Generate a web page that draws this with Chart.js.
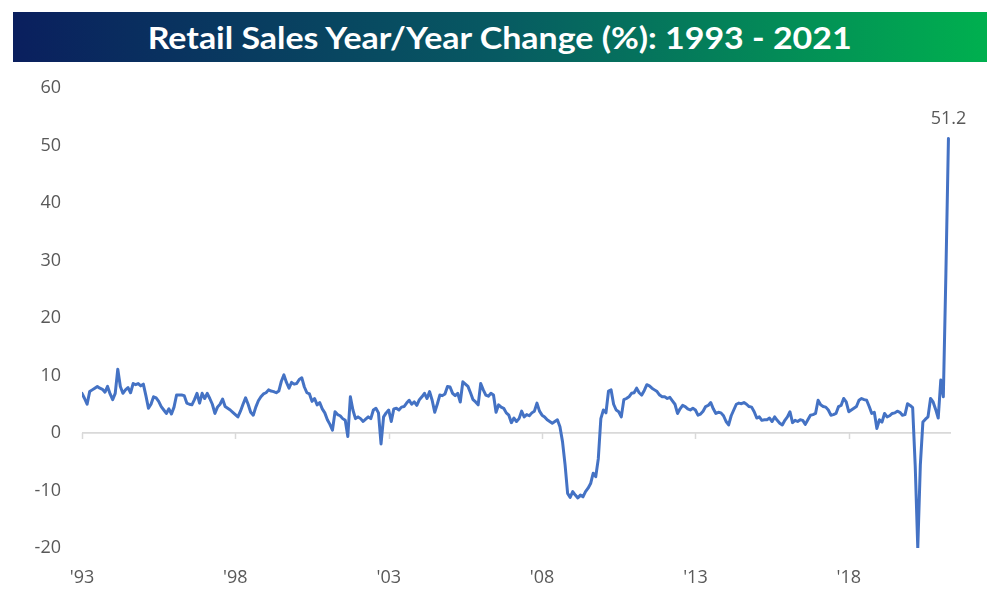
<!DOCTYPE html>
<html>
<head>
<meta charset="utf-8">
<script src="https://cdn.jsdelivr.net/npm/chart.js@4.4.1/dist/chart.umd.min.js"></script>
<style>
  html, body { margin: 0; padding: 0; background: #ffffff; }
  #wrap { position: relative; width: 1000px; height: 606px; overflow: hidden; }
  #banner {
    position: absolute; left: 13px; top: 12px; width: 974px; height: 50px;
    background: linear-gradient(90deg, #0a1f5e 0%, #075a62 50%, #00b04f 100%);
    display: flex; align-items: center; justify-content: center;
  }
  #title {
    color: #ffffff; font-family: Lato, "Open Sans", sans-serif; font-weight: 700;
    font-size: 31px; white-space: nowrap; display: inline-block; transform-origin: center center;
  }
  canvas { position: absolute; left: 0; top: 0; }
</style>
</head>
<body>
<div id="wrap">
  <canvas id="c" width="1000" height="606"></canvas>
  <div id="banner"><span id="title">Retail Sales Year/Year Change (%): 1993 - 2021</span></div>
</div>
<script>
// ---- data (monthly, Jan 1993 .. Apr 2021) ----
const startYear = 1993;
const yoy = [
  /*1993*/ 6.9, 6.0, 5.0, 7.2, 7.5, 7.8, 8.1, 7.8, 7.6, 7.1, 8.1, 6.8,
  /*1994*/ 5.8, 6.9, 11.1, 8.1, 6.9, 7.5, 7.9, 7.0, 8.6, 8.4, 8.6, 8.2,
  /*1995*/ 8.5, 6.5, 4.3, 5.0, 6.3, 6.1, 5.5, 4.6, 4.0, 3.4, 4.2, 3.3,
  /*1996*/ 4.5, 6.6, 6.6, 6.6, 6.5, 5.2, 5.0, 4.9, 5.8, 6.9, 5.2, 6.9,
  /*1997*/ 6.0, 6.9, 6.0, 5.0, 3.4, 4.5, 5.0, 5.9, 4.6, 4.3, 4.0, 3.6,
  /*1998*/ 3.2, 2.8, 3.8, 5.0, 6.1, 5.0, 3.6, 3.1, 4.5, 5.6, 6.3, 6.8,
  /*1999*/ 7.0, 7.5, 7.3, 7.2, 7.0, 7.3, 9.0, 10.1, 8.8, 7.8, 8.8, 8.5,
  /*2000*/ 8.6, 9.3, 9.6, 8.0, 7.0, 6.8, 5.5, 6.0, 4.9, 5.3, 4.2, 3.5,
  /*2001*/ 2.3, 1.5, 0.5, 3.7, 3.2, 3.0, 2.5, 2.2, -0.6, 6.3, 4.0, 2.5,
  /*2002*/ 2.8, 2.5, 2.0, 2.4, 2.8, 2.5, 4.0, 4.3, 3.5, -1.9, 2.8, 3.5,
  /*2003*/ 4.0, 2.0, 4.2, 4.3, 4.0, 4.5, 4.6, 5.2, 5.7, 5.0, 5.4, 4.8,
  /*2004*/ 5.8, 6.3, 6.9, 6.0, 7.2, 5.7, 3.6, 5.0, 6.6, 6.5, 6.8, 8.1,
  /*2005*/ 8.0, 6.9, 6.5, 6.9, 5.4, 8.9, 8.5, 8.1, 7.0, 5.8, 5.4, 4.9,
  /*2006*/ 8.6, 7.5, 6.6, 6.4, 6.9, 6.6, 3.6, 4.9, 4.5, 4.3, 3.5, 3.1,
  /*2007*/ 1.8, 2.6, 2.0, 2.5, 3.8, 2.8, 3.2, 3.0, 3.5, 3.8, 5.2, 3.8,
  /*2008*/ 3.1, 2.8, 2.3, 2.0, 1.7, 2.0, 2.3, 1.1, -1.5, -5.5, -10.5, -11.2,
  /*2009*/ -10.2, -10.8, -11.3, -10.8, -11.1, -10.2, -9.6, -8.8, -7.0, -7.6, -4.5, 2.5,
  /*2010*/ 4.0, 3.5, 7.3, 7.5, 5.0, 4.0, 3.7, 2.8, 5.8, 6.0, 6.3, 6.9,
  /*2011*/ 7.0, 7.8, 7.0, 6.6, 7.4, 8.4, 8.2, 7.8, 7.5, 7.2, 6.6, 6.3,
  /*2012*/ 6.3, 6.0, 6.2, 5.6, 5.0, 3.4, 4.2, 4.8, 4.6, 4.2, 4.0, 4.3,
  /*2013*/ 4.0, 3.1, 3.3, 3.8, 4.6, 4.8, 5.3, 4.2, 3.4, 3.6, 3.5, 3.0,
  /*2014*/ 2.0, 1.4, 3.0, 4.0, 5.0, 5.2, 5.1, 5.3, 5.0, 4.6, 4.5, 3.7,
  /*2015*/ 2.6, 2.8, 2.2, 2.3, 2.3, 2.6, 2.0, 2.8, 2.2, 1.7, 1.4, 2.2,
  /*2016*/ 2.8, 3.7, 1.8, 2.2, 2.0, 2.3, 2.2, 1.5, 2.3, 3.1, 3.2, 3.4,
  /*2017*/ 5.7, 4.9, 4.6, 4.5, 4.0, 3.1, 3.2, 3.4, 4.6, 4.8, 6.0, 5.4,
  /*2018*/ 3.7, 4.0, 4.3, 4.6, 5.7, 6.0, 5.8, 5.7, 4.6, 3.4, 3.6, 0.8,
  /*2019*/ 2.3, 1.9, 3.4, 2.8, 3.0, 3.4, 3.5, 3.8, 3.6, 3.1, 3.2, 5.1,
  /*2020*/ 4.8, 4.4, -5.7, -20.0, -5.6, 1.9, 2.4, 2.8, 6.0, 5.4, 4.1, 2.6,
  /*2021*/ 9.2, 6.3, 27.7, 51.2
];
const months = yoy.map((_, i) => (startYear + Math.floor(i / 12)) + '-' + String(i % 12 + 1).padStart(2, '0'));
const tickYears = ['1993', '1998', '2003', '2008', '2013', '2018'];
const tickLabels = ["'93", "'98", "'03", "'08", "'13", "'18"];
const yTicks = [-20, -10, 0, 10, 20, 30, 40, 50, 60];
const lastLabel = '51.2';

const tickIndex = tickYears.map(y => months.indexOf(y + '-01'));

// fit title width
(function () {
  const t = document.getElementById('title');
  const w = t.getBoundingClientRect().width;
  t.style.transform = 'scaleX(' + (704 / w) + ')';
})();

const FONT = '"Open Sans", Lato, sans-serif';
const GRAY = '#595959';

const extras = {
  id: 'extras',
  afterDatasetsDraw(chart) {
    const ctx = chart.ctx;
    const xs = chart.scales.x, ys = chart.scales.y;
    const y0 = ys.getPixelForValue(0);
    ctx.save();
    ctx.strokeStyle = '#d9d9d9';
    ctx.lineWidth = 1.5;
    tickIndex.forEach(v => {
      const x = Math.round(xs.getPixelForValue(v)) + 0.5;
      ctx.beginPath(); ctx.moveTo(x, y0); ctx.lineTo(x, y0 + 6); ctx.stroke();
    });
    const meta = chart.getDatasetMeta(0);
    const p = meta.data[meta.data.length - 1];
    ctx.fillStyle = GRAY;
    ctx.font = '18px ' + FONT;
    ctx.textAlign = 'center';
    ctx.textBaseline = 'middle';
    ctx.fillText(lastLabel, p.x, p.y - 20);
    ctx.restore();
  }
};

new Chart(document.getElementById('c'), {
  type: 'line',
  data: {
    datasets: [{
      data: yoy.map((v, i) => ({ x: i, y: v })),
      borderColor: '#4472c4',
      borderWidth: 3,
      borderJoinStyle: 'round',
      borderCapStyle: 'round',
      pointRadius: 0,
      tension: 0,
      fill: false
    }]
  },
  options: {
    responsive: false,
    animation: false,
    devicePixelRatio: 1,
    layout: { padding: { left: 0, right: 49, top: 88, bottom: 0 } },
    plugins: { legend: { display: false }, tooltip: { enabled: false }, title: { display: false } },
    scales: {
      x: {
        type: 'linear', min: 0, max: 340,
        afterBuildTicks: s => { s.ticks = tickIndex.map(v => ({ value: v })); },
        afterFit: s => { s.height = 58; },
        grid: { display: false, drawTicks: false },
        border: { display: false },
        ticks: {
          autoSkip: false, maxRotation: 0, padding: 19,
          color: GRAY, font: { family: FONT, size: 18 },
          callback: (v) => { const k = tickIndex.indexOf(v); return k >= 0 ? tickLabels[k] : ''; }
        }
      },
      y: {
        min: -20, max: 60,
        afterBuildTicks: s => { s.ticks = yTicks.map(v => ({ value: v })); },
        afterFit: s => { s.width = 82; },
        grid: {
          drawTicks: false,
          color: c => (c.tick && c.tick.value === 0) ? '#d9d9d9' : 'rgba(0,0,0,0)',
          lineWidth: 1.8
        },
        border: { display: false },
        ticks: { padding: 21, color: GRAY, font: { family: FONT, size: 18 } }
      }
    }
  },
  plugins: [extras]
});
</script>
</body>
</html>
